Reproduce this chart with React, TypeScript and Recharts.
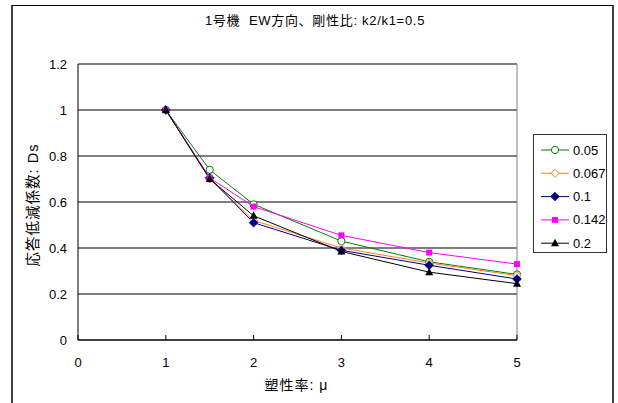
import React from 'react';
import { LineChart, Line, XAxis, YAxis, CartesianGrid, ReferenceLine } from 'recharts';

// 塑性率 μ (x values)
const mu = [1, 1.5, 2, 3, 4, 5];

// 応答低減係数 Ds for each damping value
const ds005 = [1, 0.74, 0.59, 0.43, 0.34, 0.285];
const ds0067 = [1, 0.7, 0.52, 0.4, 0.335, 0.28];
const ds01 = [1, 0.705, 0.51, 0.39, 0.325, 0.265];
const ds0142 = [1, 0.705, 0.58, 0.455, 0.38, 0.33];
const ds02 = [1, 0.7, 0.54, 0.385, 0.295, 0.245];

const seriesNames = ['0.05', '0.067', '0.1', '0.142', '0.2'];
const seriesValues = [ds005, ds0067, ds01, ds0142, ds02];

const xTicks = [0, 1, 2, 3, 4, 5];
const yTicks = [0, 0.2, 0.4, 0.6, 0.8, 1, 1.2];

const titleText = '1号機  EW方向、剛性比: k2/k1=0.5';
const xLabel = '塑性率: μ';
const yLabel = '応答低減係数: Ds';

const FONT = "'Liberation Sans', Arial, 'Noto Sans CJK JP', sans-serif";

type MarkerKind = 'circle' | 'openDiamond' | 'diamond' | 'square' | 'triangle';

const styles: { color: string; marker: MarkerKind }[] = [
  { color: '#008000', marker: 'circle' },
  { color: '#FF7F27', marker: 'openDiamond' },
  { color: '#000080', marker: 'diamond' },
  { color: '#FF00FF', marker: 'square' },
  { color: '#000000', marker: 'triangle' },
];

const data = mu.map((m, i) => {
  const row: Record<string, number> = { mu: m };
  seriesNames.forEach((n, s) => {
    row[n] = seriesValues[s][i];
  });
  return row;
});

function Marker({ kind, color, cx, cy }: { kind: MarkerKind; color: string; cx: number; cy: number }) {
  switch (kind) {
    case 'circle':
      return <circle cx={cx} cy={cy} r={3.6} fill="#fff" stroke={color} strokeWidth={1} />;
    case 'openDiamond':
      return (
        <polygon
          points={`${cx},${cy - 4} ${cx + 4},${cy} ${cx},${cy + 4} ${cx - 4},${cy}`}
          fill="#fff"
          stroke={color}
          strokeWidth={1}
        />
      );
    case 'diamond':
      return (
        <polygon
          points={`${cx},${cy - 4.5} ${cx + 4.5},${cy} ${cx},${cy + 4.5} ${cx - 4.5},${cy}`}
          fill={color}
          stroke={color}
          strokeWidth={0.5}
        />
      );
    case 'square':
      return <rect x={cx - 3} y={cy - 3} width={6} height={6} fill={color} />;
    case 'triangle':
    default:
      return (
        <polygon
          points={`${cx},${cy - 4.5} ${cx + 4},${cy + 3} ${cx - 4},${cy + 3}`}
          fill={color}
        />
      );
  }
}

const XTick = (props: any) => {
  const { x, y, payload } = props;
  return (
    <g>
      <line x1={x} x2={x} y1={y} y2={y - 5} stroke="#000" strokeWidth={1} />
      <text x={x} y={y + 27} textAnchor="middle" fontSize={13} fontFamily={FONT} fill="#000">
        {payload.value}
      </text>
    </g>
  );
};

const YTick = (props: any) => {
  const { x, y, payload } = props;
  return (
    <text x={x - 11} y={y} dy="0.35em" textAnchor="end" fontSize={13} fontFamily={FONT} fill="#000">
      {String(payload.value)}
    </text>
  );
};

function LegendBox() {
  return (
    <div
      style={{
        position: 'absolute',
        left: 533,
        top: 134,
        width: 72,
        height: 117,
        border: '1px solid #333',
        background: '#fff',
        boxSizing: 'content-box',
      }}
    >
      <svg width={72} height={117} style={{ display: 'block' }}>
        {seriesNames.map((n, i) => {
          const cy = 15 + i * 23.3;
          return (
            <g key={n}>
              <line x1={7} x2={35} y1={cy} y2={cy} stroke={styles[i].color} strokeWidth={1} />
              <Marker kind={styles[i].marker} color={styles[i].color} cx={21} cy={cy} />
              <text x={39} y={cy} dy="0.35em" fontSize={13} fontFamily={FONT} fill="#000">
                {n}
              </text>
            </g>
          );
        })}
      </svg>
    </div>
  );
}

export default function App() {
  return (
    <div style={{ position: 'absolute', left: 0, top: 0, width: 618, height: 403, background: '#fff', overflow: 'hidden' }}>
      <div
        style={{
          position: 'absolute',
          left: 11,
          top: 5,
          width: 599,
          height: 420,
          borderLeft: '2px solid #404040',
          borderRight: '2px solid #404040',
          borderTop: '1px solid #000',
        }}
      />
      <div
        style={{
          position: 'absolute',
          left: 0,
          top: 11,
          width: 630,
          textAlign: 'center',
          fontSize: 13,
          letterSpacing: 0.7,
          lineHeight: '20px',
          fontFamily: FONT,
          color: '#000',
          whiteSpace: 'pre',
        }}
      >
        {titleText}
      </div>
      <div style={{ position: 'absolute', left: 0, top: 0 }}>
        <LineChart width={618} height={403} data={data} margin={{ top: 64, right: 101, bottom: 0, left: 0 }}>
          <CartesianGrid vertical={false} stroke="#000" strokeWidth={1} />
          <XAxis
            dataKey="mu"
            type="number"
            domain={[0, 5]}
            ticks={xTicks}
            height={63}
            tickSize={0}
            tickMargin={0}
            tickLine={false}
            stroke="#000"
            tick={<XTick />}
            label={{
              content: ({ viewBox }: any) => (
                <text
                  x={viewBox.x + viewBox.width / 2 - 1}
                  y={viewBox.y + 50}
                  textAnchor="middle"
                  fontSize={14}
                  letterSpacing={1}
                  fontFamily={FONT}
                  fill="#000"
                >
                  {xLabel}
                </text>
              ),
            }}
          />
          <YAxis
            type="number"
            domain={[0, 1.2]}
            ticks={yTicks}
            width={78}
            tickSize={0}
            tickMargin={0}
            tickLine={false}
            stroke="#000"
            tick={<YTick />}
            label={{
              content: ({ viewBox }: any) => {
                const cx = viewBox.x + 33;
                const cy = viewBox.y + viewBox.height / 2 + 3;
                return (
                  <text
                    x={cx}
                    y={cy}
                    dy="0.35em"
                    textAnchor="middle"
                    fontSize={14.5}
                    letterSpacing={1}
                    fontFamily={FONT}
                    fill="#000"
                    transform={`rotate(-90 ${cx} ${cy})`}
                  >
                    {yLabel}
                  </text>
                );
              },
            }}
          />
          <ReferenceLine x={5} stroke="#808080" strokeWidth={1} />
          {seriesNames.map((n, i) => (
            <Line
              key={n}
              dataKey={n}
              name={n}
              type="linear"
              stroke={styles[i].color}
              strokeWidth={1}
              isAnimationActive={false}
              dot={(p: any) => (
                <Marker key={`${n}-${p.index}`} kind={styles[i].marker} color={styles[i].color} cx={p.cx} cy={p.cy} />
              )}
              activeDot={false}
            />
          ))}
        </LineChart>
      </div>
      <LegendBox />
    </div>
  );
}
